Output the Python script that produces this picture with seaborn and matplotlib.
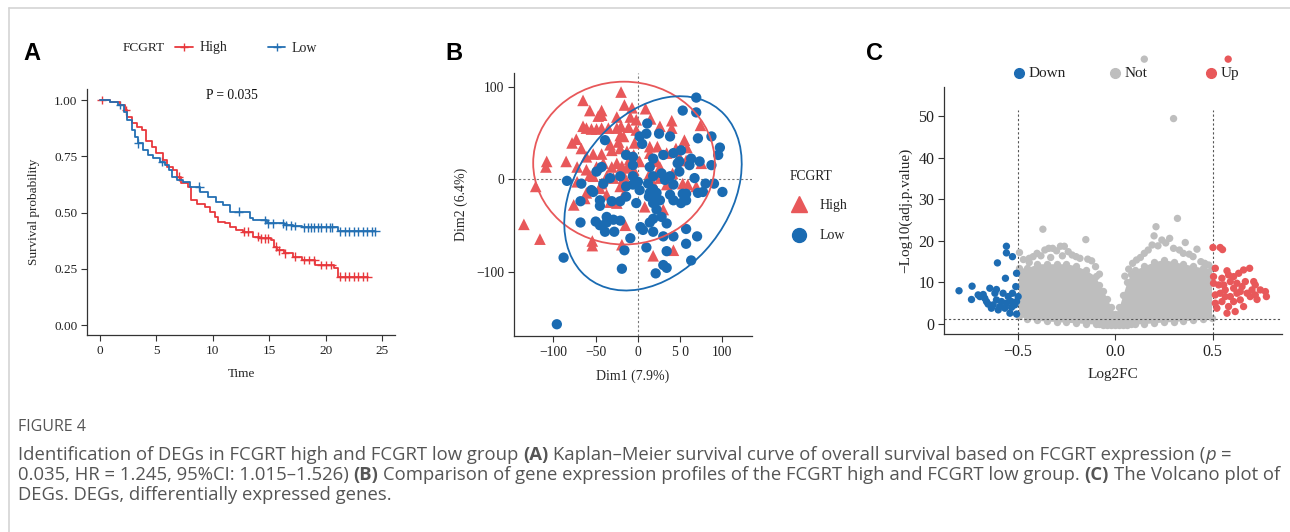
import numpy as np
import pandas as pd
import matplotlib
matplotlib.use("Agg")
import matplotlib.pyplot as plt
import seaborn as sns
from matplotlib.patches import Ellipse
from matplotlib.lines import Line2D

# ---------------- Panel A : Kaplan-Meier data ----------------
km_time_high = [0, 0.9, 1.8, 2.2, 2.4, 2.8, 3.25, 3.7, 4.1, 4.6, 5.0, 5.6, 5.9, 6.5, 6.8, 7.2, 7.8, 8.1,
                8.6, 9.3, 9.75, 10.2, 10.5, 11.1, 11.5, 12.1, 12.7, 13.6, 14.2, 15.2, 15.4, 15.7, 16.3,
                17.1, 17.9, 19.1, 20.7, 21.1, 23.8]
km_surv_high = [1.0, 0.99, 0.978, 0.955, 0.926, 0.896, 0.88, 0.867, 0.82, 0.79, 0.763, 0.733, 0.704,
                0.689, 0.659, 0.63, 0.615, 0.556, 0.54, 0.526, 0.504, 0.48, 0.459, 0.452, 0.437, 0.422,
                0.415, 0.393, 0.385, 0.378, 0.348, 0.333, 0.319, 0.304, 0.289, 0.267, 0.252, 0.215, 0.215]
km_time_low = [0, 0.9, 1.6, 2.1, 2.4, 2.8, 3.1, 3.4, 3.85, 4.3, 4.7, 5.3, 5.8, 6.1, 6.4, 6.8, 7.4, 8.0,
               8.9, 9.6, 10.3, 10.9, 11.5, 13.3, 13.6, 14.8, 16.3, 17.1, 17.9, 21.1, 24.4]
km_surv_low = [1.0, 0.99, 0.978, 0.948, 0.911, 0.867, 0.837, 0.807, 0.778, 0.756, 0.741, 0.726, 0.711,
               0.689, 0.659, 0.644, 0.637, 0.615, 0.593, 0.57, 0.548, 0.533, 0.504, 0.474, 0.467, 0.452,
               0.444, 0.440, 0.434, 0.417, 0.417]
censor_high = [0.15, 2.3, 7.0, 12.8, 13.1, 14.0, 14.3, 14.6, 14.9, 15.6, 15.9, 16.4, 17.3, 18.1, 18.5,
               19.0, 19.6, 20.0, 20.5, 21.3, 21.7, 22.1, 22.5, 22.9, 23.3, 23.7]
censor_low = [1.8, 3.4, 5.5, 8.8, 12.3, 14.6, 14.9, 15.3, 16.2, 16.5, 16.9, 17.3, 18.1, 18.4, 18.7, 19.0,
              19.3, 19.6, 20.0, 20.4, 20.6, 21.3, 21.7, 22.1, 22.5, 22.9, 23.3, 23.7, 24.1, 24.4]
km_groups = ["High", "Low"]
km_p_text = "P = 0.035"

# ---------------- Panel B : PCA data ----------------
pca_high_x = [-20, -65, -16, -7, 9, -57, -43, -43, -47, -25, -9, 15, 40, 26, 40, -65, -61, -55, -49, -43,
              -35, -25, -20, -11, -2, -17, -21, 74, 55, 58, -73, -78, -67, -53, -43, -31, -21, -13, -5, 14,
              23, 14, 34, 45, 49, 57, 75, -108, -109, -85, -72, -61, -49, -41, -31, -25, -19, -13, -19, -5,
              -37, -53, -57, -29, -17, 14, 26, 41, 53, 59, 69, 34, 18, -13, -21, -43, -45, -61, -37, -17,
              -63, -76, -33, -25, 8, 30, -121, -135, -116, -15, -54, -54, -19, 18, 42, -72, -4, -2, -23,
              -33, -10, 2, 22, 26, -61]
pca_high_y = [94, 85, 80, 77, 76, 74, 74, 69, 68, 67, 67, 65, 63, 57, 55, 57, 55, 54, 54, 55,
              55, 55, 57, 56, 53, 46, 47, 58, 42, 34, 43, 39, 33, 27, 27, 31, 33, 30, 26, 35,
              35, 28, 28, 33, 24, 20, 17, 19, 13, 19, 13, 10, 13, 17, 13, 17, 14, 12, 8, 10,
              3, 3, 4, 1, 1, 6, 1, 6, -5, -6, -8, -6, -5, -3, -8, -5, -10, -15, -17, -17,
              -21, -28, -25, -26, -30, -33, -8, -49, -65, -50, -67, -72, -71, -83, -77, -3, 39, 64, 40,
              37, 21, 19, 19, 13, 24]
pca_low_x = [69, 53, 69, 11, 25, 38, 2, 10, 71, 87, 97, 95, -39, 5, 18, 30, 42, 49, 61, 73, 87, -6, -14,
             -43, -49, -6, 18, 28, 38, 49, 67, 80, 90, 100, -84, -67, 0, -6, -14, 12, 18, 22, 14, 20, 26,
             38, 53, 57, 71, 77, 42, 51, 57, -14, -21, -45, -31, -55, -68, -45, -68, -50, -45, -39, -37,
             -29, -21, -28, -37, 3, 14, 18, 28, 34, 6, 18, 30, 42, 57, 70, 57, -9, -16, 10, 34, 30, 34,
             21, -19, -88, 63, -96, 13, 18, 22, 2, -21, -33, -41, -53, -2, 32, 42, 47, 63, 51, -6, 14]
pca_low_y = [88, 74, 72, 60, 49, 46, 46, 49, 44, 46, 34, 26, 42, 38, 22, 26, 28, 19, 15, 19, 15, 24, 26,
             13, 8, 15, 3, 6, 3, 8, 1, -5, -5, -14, -2, -5, -3, -6, -8, -5, -11, -15, -15, -21, -23,
             -17, -16, -16, -15, -14, -23, -26, -23, -19, -24, -23, -24, -12, -24, -29, -47, -46, -50, -57,
             -41, -44, -45, -57, -47, -52, -47, -43, -41, -48, -55, -57, -62, -62, -54, -62, -70, -64, -77,
             -74, -78, -93, -96, -102, -97, -85, -88, -157, -19, -26, -33, -12, 3, 1, -5, -14, -26, -1, -6,
             17, 22, 31, 3, 13]
pca_groups = ["High", "Low"]
ellipse_center = {"High": (-16.5, 17.2), "Low": (17.8, -15.5)}
ellipse_size = {"High": (215, 176, 0), "Low": (240, 175, 45)}

# ---------------- Panel C : volcano data ----------------
down_fc = [-0.80, -0.733, -0.736, -0.676, -0.642, -0.608, -0.603, -0.557, -0.526, -0.557, -0.562, -0.505,
           -0.509, -0.693, -0.659, -0.625, -0.608, -0.591, -0.574, -0.548, -0.531, -0.514, -0.539, -0.505,
           -0.497, -0.651, -0.634, -0.582, -0.557, -0.526, -0.599, -0.565, -0.531, -0.505, -0.616, -0.668,
           -0.702]
down_p = [8.0, 9.1, 5.9, 7.1, 8.6, 8.3, 14.7, 17.1, 16.2, 18.7, 11.0, 12.2, 9.0, 6.6, 5.4, 4.6, 5.8, 4.2,
          7.4, 6.6, 5.4, 4.6, 2.6, 2.4, 6.6, 4.8, 3.8, 5.4, 5.0, 7.4, 3.4, 3.8, 4.0, 5.4, 7.4, 6.2, 7.0]
up_fc = [0.502, 0.539, 0.551, 0.514, 0.574, 0.608, 0.634, 0.659, 0.690, 0.711, 0.719, 0.745, 0.771, 0.776,
         0.728, 0.659, 0.616, 0.582, 0.548, 0.522, 0.514, 0.531, 0.565, 0.591, 0.625, 0.651, 0.677, 0.693,
         0.642, 0.608, 0.565, 0.539, 0.505, 0.505, 0.548, 0.591, 0.625, 0.668, 0.702, 0.574, 0.514, 0.557,
         0.582, 0.608, 0.642, 0.719, 0.58]
up_p = [18.4, 18.4, 17.9, 13.4, 12.8, 11.4, 12.2, 13.0, 13.4, 10.2, 9.4, 8.2, 7.8, 6.6, 5.9, 4.2, 3.0,
        4.2, 5.4, 3.8, 7.0, 9.4, 8.2, 6.6, 7.4, 9.0, 7.4, 6.6, 5.8, 5.4, 6.6, 7.4, 9.8, 11.4, 11.0, 10.2,
        9.8, 10.2, 8.2, 2.6, 5.0, 9.4, 11.8, 8.6, 7.8, 7.0, 63.7]
not_fc = [-0.49, -0.47, -0.44, -0.42, -0.40, -0.38, -0.36, -0.34, -0.32, -0.30, -0.28, -0.26, -0.24, -0.22,
          -0.20, -0.18, -0.15, -0.14, -0.12, -0.37, -0.44, -0.33, -0.27, -0.10, -0.08, 0.05, 0.07, 0.09,
          0.11, 0.13, 0.15, 0.17, 0.19, 0.20, 0.21, 0.22, 0.24, 0.26, 0.28, 0.30, 0.32, 0.33, 0.35, 0.36,
          0.38, 0.40, 0.42, 0.44, 0.46, 0.48, 0.30, 0.15]
not_p = [17.2, 15.5, 15.8, 16.2, 17.0, 16.4, 17.8, 18.2, 18.2, 17.6, 18.7, 18.7, 17.4, 16.6, 16.2, 15.8,
         20.3, 15.6, 15.2, 22.8, 14.8, 16.0, 16.4, 13.8, 12.0, 11.5, 13.2, 14.6, 15.4, 16.0, 17.0, 17.8,
         19.0, 21.2, 23.4, 18.8, 20.2, 19.5, 20.6, 18.2, 25.4, 17.8, 17.0, 19.6, 16.8, 16.2, 18.0, 15.0,
         14.6, 14.2, 49.4, 63.7]
# dense "Not" cloud outline
cloud_fc = [-0.495, -0.45, -0.40, -0.35, -0.30, -0.25, -0.20, -0.15, -0.10, -0.08, -0.06, -0.04, -0.02,
            0.0, 0.02, 0.04, 0.06, 0.08, 0.10, 0.15, 0.20, 0.25, 0.30, 0.35, 0.40, 0.45, 0.495]
cloud_top = [13.5, 13.5, 14.5, 14.5, 14.5, 14.5, 14.0, 13.0, 11.5, 9.5, 8.0, 6.0, 4.0, 2.5, 4.0, 7.0,
             10.0, 12.0, 13.0, 14.0, 15.0, 15.5, 15.0, 14.5, 14.0, 13.5, 13.5]
cloud_bot = [2.0, 1.2, 0.9, 0.7, 0.6, 0.4, 0.3, 0.1, 0.0, -0.1, -0.2, -0.3, -0.3, -0.3, -0.3, -0.3, -0.2,
             -0.1, 0.0, 0.1, 0.3, 0.5, 0.6, 0.8, 0.9, 1.2, 1.5]
volcano_classes = ["Down", "Not", "Up"]
fc_cut = 0.5
p_cut = 1.3

caption_title = "FIGURE 4"

# ---------------- figure ----------------
sns.set_theme(style="ticks")
plt.rcParams['font.family'] = ['Liberation Serif', 'DejaVu Serif']
plt.rcParams['axes.edgecolor'] = '#333333'
plt.rcParams['axes.linewidth'] = 0.9

W, H = 1290, 532
fig = plt.figure(figsize=(W / 100, H / 100), dpi=100)
fig.patch.set_facecolor('white')


def rect(l, t, r, b):
    return [l / W, 1 - b / H, (r - l) / W, (b - t) / H]


def fx(px):
    return px / W


def fy(py):
    return 1 - py / H


def style_axes(ax, fs):
    sns.despine(ax=ax)
    ax.tick_params(axis='both', length=4, width=0.8, color='#333333', labelsize=fs,
                   labelcolor='#222222', pad=3)
    ax.set_facecolor('white')


# frame lines
fig.add_artist(Line2D([fx(9), fx(1290)], [fy(8), fy(8)], color='#d4d4d4', lw=1.2, transform=fig.transFigure))
fig.add_artist(Line2D([fx(9), fx(9)], [fy(8), fy(532)], color='#d4d4d4', lw=1.2, transform=fig.transFigure))

RED_KM, BLUE_KM = '#E8383D', '#2470B3'

# ---------- Panel A ----------
axA = fig.add_axes(rect(87, 89, 395, 335))
rows = []
for g, tt, ss in [("High", km_time_high, km_surv_high), ("Low", km_time_low, km_surv_low)]:
    for t, s in zip(tt, ss):
        rows.append({"time": t, "surv": s, "group": g})
km_df = pd.DataFrame(rows)
sns.lineplot(data=km_df, x="time", y="surv", hue="group", palette={"High": RED_KM, "Low": BLUE_KM},
             drawstyle='steps-post', estimator=None, sort=False, legend=False, lw=1.3, ax=axA)
crow = []
for g, ct, tt, ss in [("High", censor_high, km_time_high, km_surv_high),
                      ("Low", censor_low, km_time_low, km_surv_low)]:
    tt = np.asarray(tt); ss = np.asarray(ss)
    for c in ct:
        idx = np.searchsorted(tt, c, side='right') - 1
        crow.append({"time": c, "surv": ss[idx], "group": g})
cdf = pd.DataFrame(crow)
sns.scatterplot(data=cdf, x="time", y="surv", hue="group", palette={"High": RED_KM, "Low": BLUE_KM},
                marker='+', s=40, linewidth=1.0, legend=False, ax=axA)
axA.set_xlim(-1.15, 26.15)
axA.set_ylim(-0.044, 1.049)
axA.set_xticks([0, 5, 10, 15, 20, 25])
axA.set_yticks([0, 0.25, 0.5, 0.75, 1.0])
axA.set_yticklabels(["0.00", "0.25", "0.50", "0.75", "1.00"])
axA.set_xlabel("Time", fontsize=9.5, labelpad=8)
axA.set_ylabel("Survival probability", fontsize=9.5, labelpad=10)
style_axes(axA, 9.5)
axA.text(11.7, 1.018, km_p_text, ha='center', va='center', fontsize=9.8, color='#111111')

# legend A
fig.text(fx(123), fy(48), "FCGRT", fontsize=9.6, va='center', ha='left', color='#222222')
for (x1, x2, lab, col) in [(175, 193, "High", RED_KM), (268, 285, "Low", BLUE_KM)]:
    fig.add_artist(Line2D([fx(x1), fx((x1 + x2) / 2), fx(x2)], [fy(47)] * 3, color=col, lw=1.3,
                          marker='+', markevery=[1], markersize=6, transform=fig.transFigure))
    fig.text(fx(x2 + 7), fy(48), lab, fontsize=10, va='center', ha='left', color='#222222')

# ---------- Panel B ----------
RED_P, BLUE_P = '#E8585A', '#1A6BB2'
axB = fig.add_axes(rect(514, 73, 752, 336))
pca_df = pd.concat([
    pd.DataFrame({"Dim1": pca_high_x, "Dim2": pca_high_y, "FCGRT": "High"}),
    pd.DataFrame({"Dim1": pca_low_x, "Dim2": pca_low_y, "FCGRT": "Low"}),
])
axB.axhline(0, color='#777777', lw=0.8, ls=(0, (2, 2)), zorder=0)
axB.axvline(0, color='#777777', lw=0.8, ls=(0, (2, 2)), zorder=0)
sns.scatterplot(data=pca_df, x="Dim1", y="Dim2", hue="FCGRT", style="FCGRT",
                markers={"High": "^", "Low": "o"}, palette={"High": RED_P, "Low": BLUE_P},
                size="FCGRT", sizes={"High": 70, "Low": 55}, linewidth=0, legend=False, ax=axB, zorder=3)
for g, col in [("High", RED_P), ("Low", BLUE_P)]:
    w, h, ang = ellipse_size[g]
    axB.add_patch(Ellipse(ellipse_center[g], w, h, angle=ang, fill=False, edgecolor=col, lw=1.3, zorder=4))
axB.set_xlim(-146.7, 135)
axB.set_ylim(-169.7, 114.6)
axB.set_xticks([-100, -50, 0, 50, 100])
axB.set_xticklabels(["\u2212100", "\u221250", "0", "5 0", "100"])
axB.set_yticks([-100, 0, 100])
axB.set_yticklabels(["\u2212100", "0", "100"])
axB.set_xlabel("Dim1 (7.9%)", fontsize=10, labelpad=8)
axB.set_ylabel("Dim2 (6.4%)", fontsize=10, labelpad=6)
style_axes(axB, 9.8)

# legend B
fig.text(fx(790), fy(176), "FCGRT", fontsize=9.8, va='center', ha='left', color='#222222')
fig.add_artist(Line2D([fx(799)], [fy(204)], marker='^', markersize=12, color=RED_P, lw=0,
                      transform=fig.transFigure))
fig.add_artist(Line2D([fx(799)], [fy(235)], marker='o', markersize=10, color=BLUE_P, lw=0,
                      transform=fig.transFigure))
fig.text(fx(820), fy(205), "High", fontsize=10, va='center', ha='left', color='#222222')
fig.text(fx(820), fy(236), "Low", fontsize=10, va='center', ha='left', color='#222222')

# ---------- Panel C ----------
GREY, BLUE_V, RED_V = '#BEBEBE', '#1D6CB3', '#E8585A'
axC = fig.add_axes(rect(944, 87, 1282, 334))
axC.fill_between(cloud_fc, cloud_bot, cloud_top, color=GREY, lw=0, zorder=1)
cloud_df = pd.DataFrame({"fc": cloud_fc + cloud_fc, "p": cloud_top + cloud_bot})
sns.scatterplot(data=cloud_df, x="fc", y="p", color=GREY, s=28, linewidth=0, legend=False, ax=axC, zorder=1)
vdf = pd.concat([
    pd.DataFrame({"fc": not_fc, "p": not_p, "cls": "Not"}),
    pd.DataFrame({"fc": down_fc, "p": down_p, "cls": "Down"}),
    pd.DataFrame({"fc": up_fc, "p": up_p, "cls": "Up"}),
])
sns.scatterplot(data=vdf, x="fc", y="p", hue="cls", palette={"Down": BLUE_V, "Not": GREY, "Up": RED_V},
                s=28, linewidth=0, legend=False, ax=axC, zorder=3, clip_on=False)
axC.plot([-fc_cut, -fc_cut], [-2.4, 51.4], color='#555555', lw=0.8, ls=(0, (2, 2)), zorder=2)
axC.plot([fc_cut, fc_cut], [-2.4, 51.4], color='#555555', lw=0.8, ls=(0, (2, 2)), zorder=2)
axC.axhline(p_cut, color='#555555', lw=0.8, ls=(0, (2, 2)), zorder=2)
axC.set_xlim(-0.877, 0.856)
axC.set_ylim(-2.4, 57)
axC.set_xticks([-0.5, 0.0, 0.5])
axC.set_xticklabels(["\u22120.5", "0.0", "0.5"])
axC.set_yticks([0, 10, 20, 30, 40, 50])
axC.set_xlabel("Log2FC", fontsize=11, labelpad=6)
axC.set_ylabel("\u2212Log10(adj.p.value)", fontsize=11, labelpad=4)
style_axes(axC, 11.5)

# legend C
for (dx, lab, col) in [(1019, "Down", BLUE_V), (1115, "Not", GREY), (1211, "Up", RED_V)]:
    fig.add_artist(Line2D([fx(dx)], [fy(73)], marker='o', markersize=7, color=col, lw=0,
                          transform=fig.transFigure))
    fig.text(fx(dx + 10), fy(73), lab, fontsize=11, va='center', ha='left', color='#222222')

# panel letters
for (x, lab) in [(23, "A"), (445, "B"), (866, "C")]:
    fig.text(fx(x), fy(53), lab, fontsize=17, fontweight='bold', family=['Liberation Sans', 'DejaVu Sans'],
             va='center', ha='left', color='black')

# ---------- caption ----------
CAPFAM = ['Open Sans', 'DejaVu Sans']
CAPCOL = '#555555'
fig.text(fx(18), fy(427), caption_title, fontsize=11.5, family=CAPFAM, color='#555555',
         va='center', ha='left')

cap_lines = [
    [("Identification of DEGs in FCGRT high and FCGRT low group", "n"), ("(A)", "b"),
     ("Kaplan\u2013Meier survival curve of overall survival based on FCGRT expression (", "n"),
     ("p", "i"), ("=", "n0")],
    [("0.035, HR = 1.245, 95%CI: 1.015\u20131.526)", "n"), ("(B)", "b"),
     ("Comparison of gene expression profiles of the FCGRT high and FCGRT low group.", "n"),
     ("(C)", "b"), ("The Volcano plot of", "n")],
    [("DEGs. DEGs, differentially expressed genes.", "n")],
]
renderer = fig.canvas.get_renderer()


def draw_line(pieces, x0, ypx, size):
    arts = []
    sp = fig.text(0, 0, "a a", fontsize=size, family=CAPFAM)
    sp2 = fig.text(0, 0, "aa", fontsize=size, family=CAPFAM)
    space = sp.get_window_extent(renderer).width - sp2.get_window_extent(renderer).width
    sp.remove(); sp2.remove()
    x = x0
    for i, (txt, st) in enumerate(pieces):
        if i > 0 and not (st == "i") and not (pieces[i - 1][1] == "i" and False):
            x += space
        if st == "n0":
            x += 0
        kw = dict(fontsize=size, family=CAPFAM, color=CAPCOL, va='center', ha='left')
        if st == "b":
            kw['fontweight'] = 'bold'
        if st == "i":
            kw['fontstyle'] = 'italic'
        t = fig.text(x / W, 1 - ypx / H, txt, **kw)
        bb = t.get_window_extent(renderer)
        x = bb.x1
        arts.append(t)
    return arts, x - x0


arts, wid = draw_line(cap_lines[0], 18, 455, 10)
for a in arts:
    a.remove()
cap_size = 10 * 1212 / wid
for ln, yy in zip(cap_lines, [455, 475, 495]):
    draw_line(ln, 18, yy, cap_size)

fig.savefig("out.png", dpi=100, facecolor='white')
